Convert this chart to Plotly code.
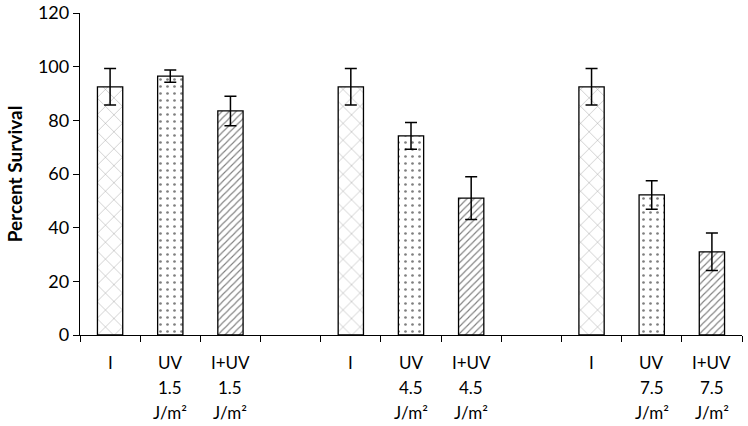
import plotly.graph_objects as go

categories = ["I", "UV\n1.5\nJ/m²", "I+UV\n1.5\nJ/m²", "",
              "I", "UV\n4.5\nJ/m²", "I+UV\n4.5\nJ/m²", "",
              "I", "UV\n7.5\nJ/m²", "I+UV\n7.5\nJ/m²"]
treatment = ["I", "UV", "I+UV", None, "I", "UV", "I+UV", None, "I", "UV", "I+UV"]
survival = [92.5, 96.5, 83.5, None, 92.5, 74.2, 51.0, None, 92.5, 52.2, 31.0]
errors = [6.8, 2.3, 5.5, None, 6.8, 5.0, 8.0, None, 6.8, 5.3, 7.0]

patterns = {"I": dict(shape="x", size=12, solidity=0.06),
            "UV": dict(shape=".", size=7, solidity=0.12),
            "I+UV": dict(shape="/", size=5, solidity=0.22)}

fig = go.Figure()
for t in ["I", "UV", "I+UV"]:
    idx = [i for i, v in enumerate(treatment) if v == t]
    fig.add_trace(go.Bar(
        x=idx, y=[survival[i] for i in idx],
        width=0.42,
        marker=dict(color="white", line=dict(color="black", width=1.3),
                    pattern=dict(fgcolor="black", bgcolor="white", **patterns[t])),
        error_y=dict(type="data", array=[errors[i] for i in idx],
                     color="black", thickness=1.5, width=6),
        showlegend=False,
    ))

font = "Lato, Open Sans, sans-serif"
for i, lab in enumerate(categories):
    for k, line in enumerate(lab.split("\n")):
        if line:
            fig.add_annotation(x=i, y=0, xref="x", yref="paper", text=line,
                               showarrow=False, yanchor="middle",
                               yshift=-27 - 25 * k,
                               font=dict(family=font, size=17, color="black"))

fig.update_layout(
    width=748, height=426,
    margin=dict(l=80, r=6, t=13, b=91, autoexpand=False),
    paper_bgcolor="white", plot_bgcolor="white",
    font=dict(family=font, size=17, color="black"),
)
fig.update_xaxes(range=[-0.5, len(categories) - 0.5], showline=True,
                 linecolor="black", linewidth=1.3, showgrid=False, zeroline=False,
                 tickvals=[], showticklabels=False, automargin=False,
                 minor=dict(tick0=-0.5, dtick=1, ticks="outside", ticklen=6,
                            tickcolor="black", tickwidth=1.3, showgrid=False))
fig.update_yaxes(range=[0, 120], dtick=20, showline=True, linecolor="black",
                 linewidth=1.3, showgrid=False, zeroline=False, automargin=False,
                 ticks="outside", ticklen=6, tickcolor="black", tickwidth=1.3,
                 tickfont=dict(size=18),
                 title=dict(text="<b>Percent Survival</b>", font=dict(size=19), standoff=10))

fig.write_html("out.html", config={"displayModeBar": False},
               post_script="document.body.style.margin='0';document.body.style.padding='0';")
